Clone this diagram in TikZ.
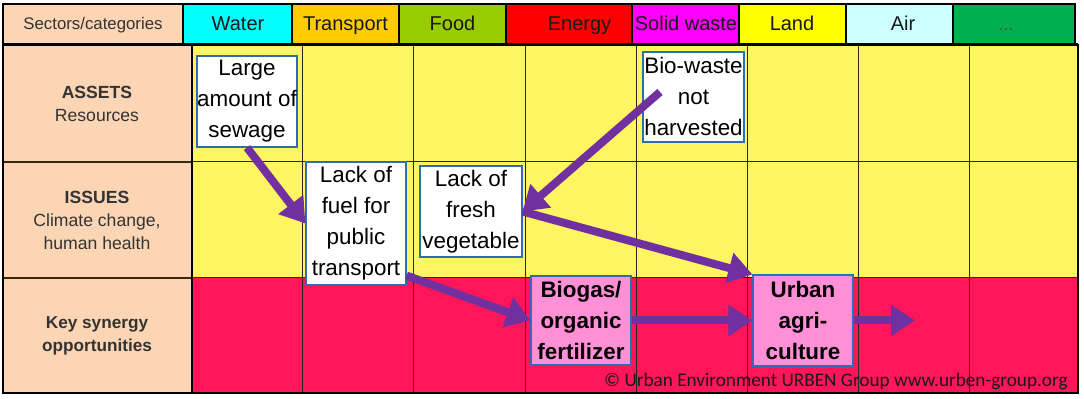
\documentclass[tikz,border=0pt]{standalone}
\usepackage{fontspec}
\setmainfont{Liberation Sans}
\newfontfamily\calibfont{Carlito}
\usetikzlibrary{arrows.meta}
\definecolor{peach}{HTML}{FCD5B4}
\definecolor{cwater}{HTML}{00FFFF}
\definecolor{ctrans}{HTML}{FFCC00}
\definecolor{cfood}{HTML}{99CC00}
\definecolor{cenergy}{HTML}{FF0000}
\definecolor{cwaste}{HTML}{FF00FF}
\definecolor{cland}{HTML}{FFFF00}
\definecolor{cair}{HTML}{CCFFFF}
\definecolor{cmore}{HTML}{00B050}
\definecolor{rowyellow}{HTML}{FFF462}
\definecolor{rowred}{HTML}{FF1559}
\definecolor{boxpink}{HTML}{FF8FD6}
\definecolor{boxblue}{HTML}{2E6DB4}
\definecolor{arrowpurple}{HTML}{7030A0}
\definecolor{txtgray}{HTML}{333333}
\begin{document}
\begin{tikzpicture}[x=0.5pt,y=-0.5pt,
  hdrtxt/.style={inner sep=0pt, anchor=base, text=black!90, font=\fontsize{10}{12}\selectfont},
  rowtxt/.style={inner sep=0pt, align=center, text=txtgray, font=\fontsize{8.8}{11.5}\selectfont},
  infobox/.style={draw=boxblue, line width=0.6pt, fill=white, inner sep=0pt, align=center,
    minimum width=50pt, font=\fontsize{11.2}{15.5}\selectfont},
  synbox/.style={infobox, fill=boxpink, font=\bfseries\fontsize{11.2}{15.5}\selectfont},
  flow/.style={draw=arrowpurple, line width=4pt, -{Triangle[length=12pt,width=15pt]}}]
\useasboundingbox (0,0) rectangle (1084,399);
% header row
\foreach \xa/\xb/\cc in {3/183/peach,183/292/cwater,292/399/ctrans,399/506/cfood,506/632/cenergy,632/739/cwaste,739/846/cland,846/953/cair,953/1075/cmore}
  \filldraw[fill=\cc, draw=black, line width=1pt] (\xa,4) rectangle (\xb,44);
\node[hdrtxt, text=txtgray, font=\fontsize{8.4}{10}\selectfont] (hsec) at (93,30) {Sectors/categories};
\node[hdrtxt] (hwater) at (238,31) {Water};
\node[hdrtxt] (htrans) at (345.5,31) {Transport};
\node[hdrtxt] (hfood) at (452.5,31) {Food};
\node[hdrtxt] (henergy) at (579.5,31) {Energy};
\node[hdrtxt] (hwaste) at (686,31) {Solid waste};
\node[hdrtxt] (hland) at (792,31) {Land};
\node[hdrtxt] (hair) at (903,31) {Air};
\node[hdrtxt, text=black!70, font=\fontsize{8}{10}\selectfont] (hmore) at (1006,31) {\dots};
% body
\fill[peach] (3,45) rectangle (192,393);
\fill[rowyellow] (192,45) rectangle (1078,278);
\fill[rowred] (192,278) rectangle (1078,393);
\foreach \xx in {302,413,525,636,747,858,969}
  \draw[black!85, line width=0.5pt] (\xx,45) -- (\xx,393);
\draw[black!70!brown, line width=0.6pt] (3,162) -- (192,162) (3,278) -- (192,278);
\draw[black!85, line width=0.5pt] (192,162) -- (1078,162) (192,278) -- (1078,278);
\draw[black, line width=0.9pt] (192,45) -- (192,393);
\draw[black, line width=0.9pt] (3,45) rectangle (1078,393);
\draw[black, line width=1pt] (3,44.5) -- (1078,44.5);
% row labels
\node[rowtxt] (rassets) at (97,103.5) {\textbf{ASSETS}\\Resources};
\node[rowtxt] (rissues) at (97,220) {\textbf{ISSUES}\\Climate change,\\human health};
\node[rowtxt, font=\bfseries\fontsize{8.6}{11.2}\selectfont] (rkey) at (97,336) {Key synergy\\opportunities};
% boxes
\node[infobox, minimum height=45.5pt] (sew) at (247,101.5) {Large\\amount of\\sewage};
\node[infobox, minimum height=61.5pt] (fuel) at (356,223.5) {Lack of\\fuel for\\public\\transport};
\node[infobox, minimum width=51pt, minimum height=45.5pt] (fresh) at (471,211.5) {Lack of\\fresh\\vegetable};
\node[infobox, minimum width=50.5pt, minimum height=45pt] (bio) at (693.5,97) {Bio-waste\\not\\harvested};
\node[synbox, minimum height=44.5pt] (biogas) at (581,320.5) {Biogas/\\organic\\fertilizer};
\node[synbox, minimum height=45.5pt] (urban) at (803,320.5) {Urban\\agri-\\culture};
% arrows
\coordinate (bioStart) at ([xshift=-16.75pt,yshift=2.5pt]bio.center);
\coordinate (fuelOut) at ([yshift=5pt]fuel.south east);
\coordinate (nextStep) at (915,320.5);
\draw[flow] (sew.south) -- (fuel.west);
\draw[flow] (bioStart) -- (fresh.east);
\draw[flow] (fresh.east) -- (urban.north west);
\draw[flow] (fuelOut) -- (biogas.west);
\draw[flow] (biogas.east) -- (urban.west);
\draw[flow] (urban.east) -- (nextStep);
% copyright
\node[anchor=base east, inner sep=0pt, font=\calibfont\fontsize{9.6}{11}\selectfont, text=black!90] (copy) at (1068,387) {\textcopyright{} Urban Environment URBEN Group www.urben-group.org};
\end{tikzpicture}
\end{document}
